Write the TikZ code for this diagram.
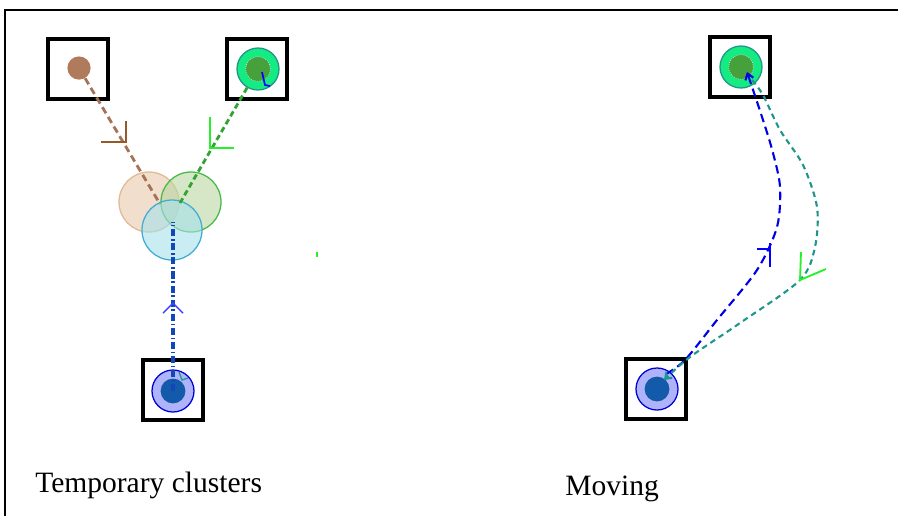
\documentclass[tikz,border=0pt]{standalone}
\usepackage{fontspec}
\setmainfont{Liberation Serif}
\usetikzlibrary{arrows.meta}
\definecolor{brdot}{RGB}{176,122,92}
\definecolor{brline}{RGB}{165,115,85}
\definecolor{brtip}{RGB}{150,90,40}
\definecolor{grring}{RGB}{20,235,130}
\definecolor{grcore}{RGB}{70,160,60}
\definecolor{teal2}{RGB}{30,150,140}
\definecolor{blring}{RGB}{175,180,250}
\definecolor{blcore}{RGB}{20,90,170}
\definecolor{tan2}{RGB}{232,200,170}
\definecolor{sage}{RGB}{185,215,160}
\definecolor{aqua}{RGB}{165,225,235}
\definecolor{lime2}{RGB}{40,240,40}

\begin{document}
\begin{tikzpicture}[x=0.025cm,y=-0.025cm,
  box/.style={draw,line width=2.3pt,minimum size=1.5cm,inner sep=0pt},
  ring/.style={circle,inner sep=0pt,minimum size=1.05cm,line width=0.9pt},
  core/.style={circle,inner sep=0pt,minimum size=0.62cm},
  blob/.style={circle,inner sep=0pt,minimum size=1.5cm,line width=0.9pt,fill opacity=0.6},
  tick/.style={line width=1.3pt}]
  \useasboundingbox (0,0) rectangle (898,516);
  \draw[line width=1.5pt] (5,516) -- (5,10) -- (898,10);

  % boxes
  \node[box] (brbox) at (78,69) {};
  \node[box] (grbox) at (257,69) {};
  \node[box] (blbox) at (173,390) {};
  \node[box] (rgrbox) at (740,67) {};
  \node[box] (rblbox) at (656,389) {};

  % temporary cluster
  \node[blob,fill=tan2,draw=tan2!80!brown] (ctan) at (149,202) {};
  \node[blob,fill=sage,draw=green!45!gray] (csage) at (191,202) {};
  \node[blob,fill=aqua,draw=cyan!70!gray] (caqua) at (172,230) {};
  \coordinate (ebr) at (160,204);
  \coordinate (egr) at (180,203);
  \coordinate (ebl) at (173,222);

  % members
  \node[core,minimum size=0.58cm,fill=brdot] (br) at (79,68) {};
  \node[ring,fill=grring,draw=teal2] (gr) at (258,69) {};
  \node[core,fill=grcore,draw=white!75!grcore,densely dotted,line width=0.5pt] at (gr) {};
  \node[ring,fill=blring,draw=blue!85!black] (bl) at (173,391) {};
  \node[core,fill=blcore] at (bl) {};
  \node[ring,fill=grring,draw=teal2] (rgr) at (741,67) {};
  \node[core,fill=grcore,draw=white!75!grcore,densely dotted,line width=0.5pt] at (rgr) {};
  \node[ring,fill=blring,draw=blue!85!black] (rbl) at (657,389) {};
  \node[core,fill=blcore] at (rbl) {};

  % links of the cluster
  \draw[brline,line width=2pt,dash pattern=on 5pt off 3pt] (br) -- (ebr);
  \draw[green!55!black!80,line width=2pt,dash pattern=on 4pt off 2.5pt] (gr) -- (egr);
  \draw[blcore!80!blue,line width=2.2pt,dash pattern=on 5pt off 2pt on 1pt off 2pt] (bl.center) -- (ebl);
  \draw[brtip,tick] (126,121) -- (126,142) -- (101,142);
  \draw[lime2,tick] (210,117) -- (210,148) -- (234,148);
  \draw[blue!75,line width=1pt] (163,313) -- (173,303) -- (183,313);
  \draw[blue,line width=1.2pt] (262,72) -- (265,85) -- (270,86);
  \draw[teal2,line width=0.9pt] (179,372) -- (182,380) -- (188,378);
  \fill[lime2] (316,252) rectangle (318,257);

  % moving
  \draw[blue!90!black,line width=1.5pt,dash pattern=on 6pt off 3.5pt,
        -{Straight Barb[length=4pt,width=6pt]}] plot[smooth]
   coordinates{ (666,374) (685,360) (717,320) (757,270) (777,227)
                (780,187) (773,153) (763,120) (747,72) };
  \draw[teal2,line width=1.5pt,dash pattern=on 4pt off 3pt,
        -{Straight Barb[length=4pt,width=6pt]}] plot[smooth]
   coordinates{ (752,80) (763,95) (780,130) (803,165) (817,207)
                (815,247) (800,280) (740,323) (690,357) (664,380) };
  \draw[blue,tick] (757,249) -- (770,249);
  \draw[blue,tick] (770,243) -- (770,267);
  \draw[lime2,tick] (801,252) -- (800,280) -- (826,269);

  \node[anchor=base west,inner sep=0pt,font=\fontsize{21}{25}\selectfont]
    (lbltemp) at (35,492) {Temporary clusters};
  \node[anchor=base west,inner sep=0pt,font=\fontsize{21}{25}\selectfont]
    (lblmove) at (565,495) {Moving};
\end{tikzpicture}
\end{document}
